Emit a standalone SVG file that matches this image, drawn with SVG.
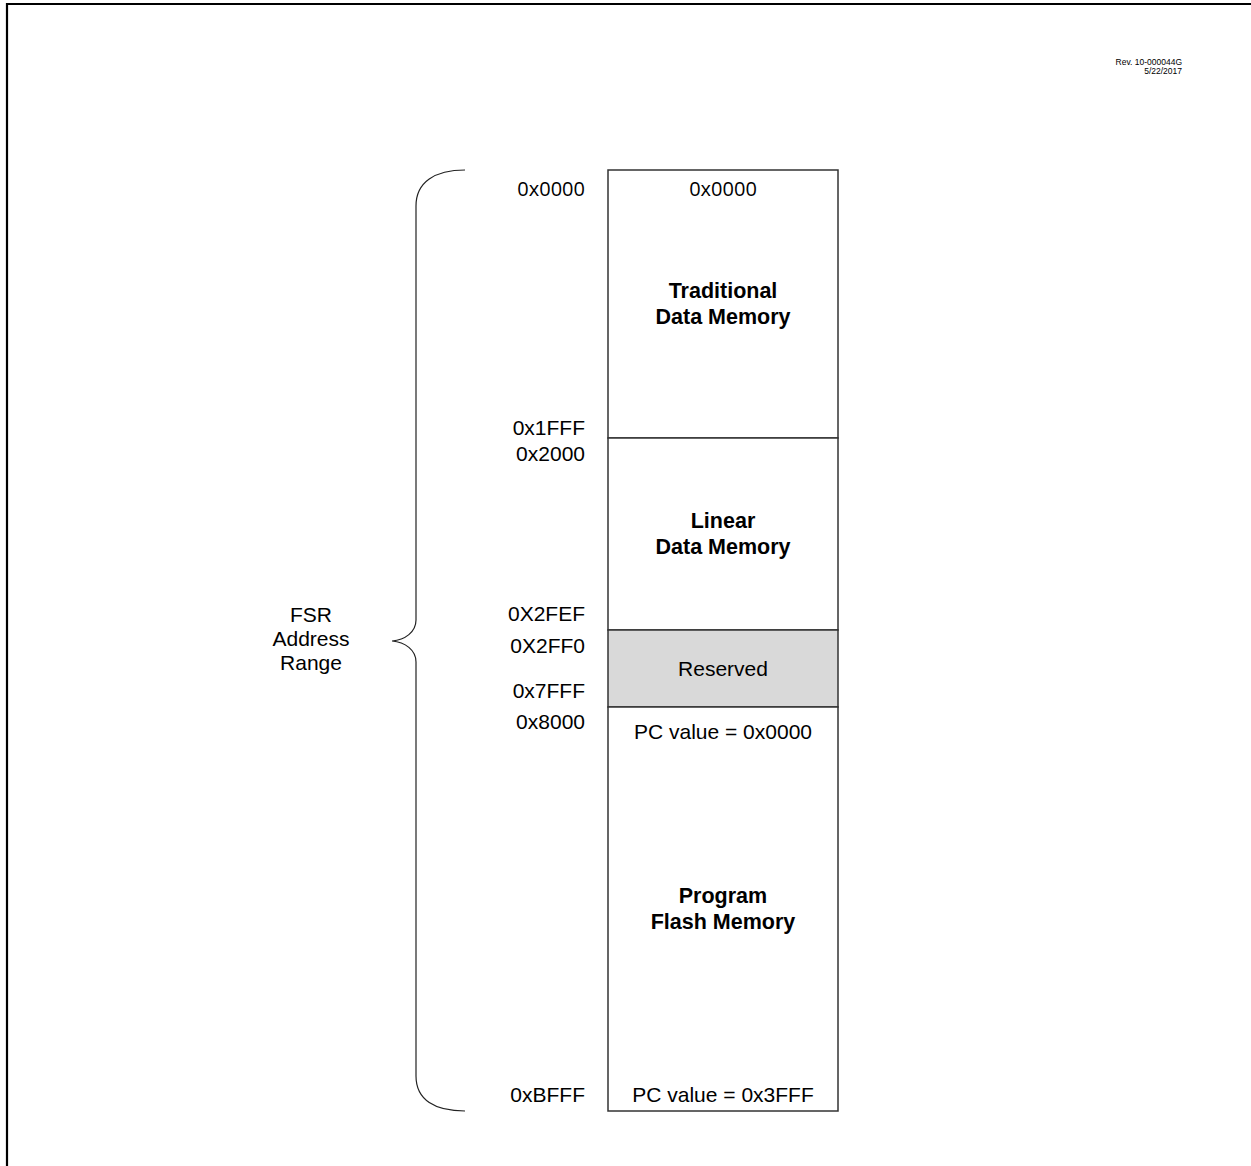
<svg xmlns="http://www.w3.org/2000/svg" width="1251" height="1166" viewBox="0 0 1251 1166">
<style>
.lbl{font-family:"Liberation Sans",Arial,sans-serif;font-size:21px;fill:#000}
.r{text-anchor:end}
.c{text-anchor:middle}
.b{font-weight:bold;font-size:21.5px}
.os{font-family:"Open Sans","Noto Sans",sans-serif;font-size:20px;fill:#000}
.box{fill:#fff;stroke:#333;stroke-width:1.5}
.rev{font-family:"Liberation Sans",Arial,sans-serif;font-size:8.5px;fill:#000;text-anchor:end}
</style>
<rect width="1251" height="1166" fill="#fff"/>
<path d="M7,1166 L7,4 L1251,4" fill="none" stroke="#000" stroke-width="2.2"/>
<g id="rev">
<text class="rev" x="1182" y="65">Rev. 10-000044G</text>
<text class="rev" x="1182" y="74">5/22/2017</text>
</g>
<g id="connectors">
<path id="brace" d="M465,170 C435,170 416,182 416,206 L416,620 C416,632 405,640 392,641 C405,642 416,650 416,662 L416,1076 C416,1100 435,1111 465,1111" fill="none" stroke="#222" stroke-width="1.2"/>
</g>
<g id="fsr-label">
<text class="lbl c" x="311" y="622">FSR</text>
<text class="lbl c" x="311" y="646">Address</text>
<text class="lbl c" x="311" y="670">Range</text>
</g>
<g id="addr-labels">
<text class="os r" x="585" y="196">0x0000</text>
<text class="lbl r" x="585" y="435">0x1FFF</text>
<text class="lbl r" x="585" y="461">0x2000</text>
<text class="lbl r" x="585" y="621">0X2FEF</text>
<text class="lbl r" x="585" y="653">0X2FF0</text>
<text class="lbl r" x="585" y="698">0x7FFF</text>
<text class="lbl r" x="585" y="729">0x8000</text>
<text class="lbl r" x="585" y="1102">0xBFFF</text>
</g>
<g id="traditional">
<rect class="box" x="608" y="170" width="230" height="268"/>
<text class="os c" x="723" y="196">0x0000</text>
<text class="lbl c b" x="723" y="298">Traditional</text>
<text class="lbl c b" x="723" y="324">Data Memory</text>
</g>
<g id="linear">
<rect class="box" x="608" y="438" width="230" height="192"/>
<text class="lbl c b" x="723" y="528">Linear</text>
<text class="lbl c b" x="723" y="554">Data Memory</text>
</g>
<g id="reserved">
<rect class="box" x="608" y="630" width="230" height="77" style="fill:#d9d9d9"/>
<text class="lbl c" x="723" y="676">Reserved</text>
</g>
<g id="flash">
<rect class="box" x="608" y="707" width="230" height="404"/>
<text class="lbl c" x="723" y="739">PC value = 0x0000</text>
<text class="lbl c b" x="723" y="903">Program</text>
<text class="lbl c b" x="723" y="929">Flash Memory</text>
<text class="lbl c" x="723" y="1102">PC value = 0x3FFF</text>
</g>
</svg>
